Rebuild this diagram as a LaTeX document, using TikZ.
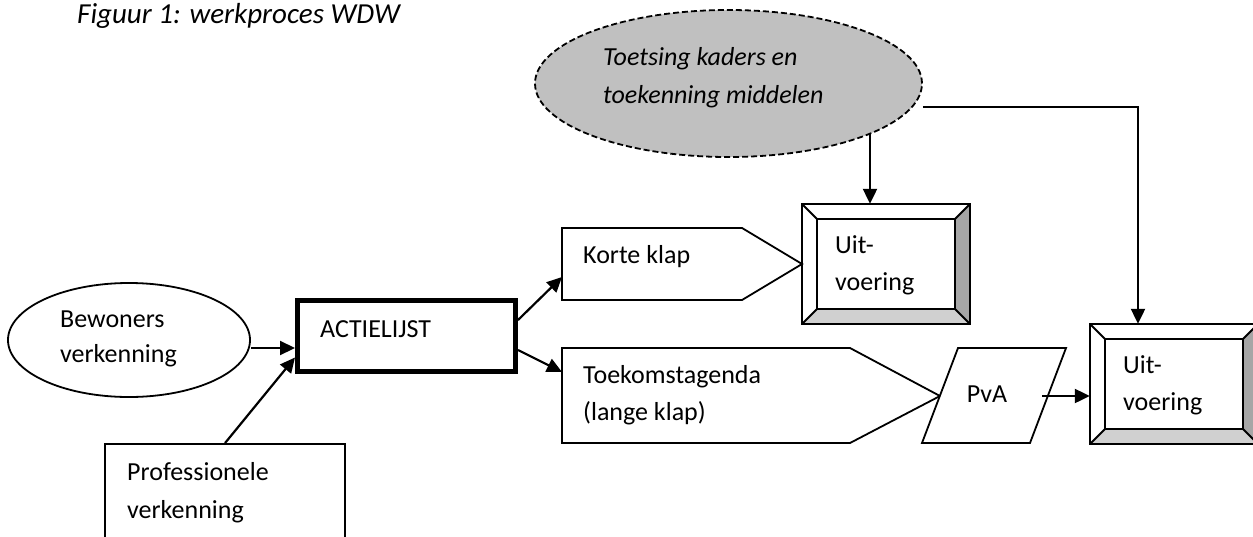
\documentclass[tikz,border=0pt]{standalone}
\usepackage{fontspec}
\setmainfont{Carlito}
\usetikzlibrary{arrows.meta,shapes.geometric,calc}
\definecolor{bevdark}{HTML}{A6A6A6}
\definecolor{bevlight}{HTML}{D0D0D0}
\definecolor{ovalgray}{HTML}{C0C0C0}
\begin{document}
\begin{tikzpicture}[x=1pt,y=-1pt,
  every node/.style={font=\fontsize{26}{31}\selectfont},
  txt/.style={anchor=base west,inner sep=0pt},
  shp/.style={draw,line width=1.8pt,inner sep=0pt},
  arr/.style={line width=2.2pt,-{Triangle[length=15pt,width=14pt]}},
  plain/.style={line width=1.8pt},
]
\useasboundingbox (0,0) rectangle (1253,536);

% title
\node[txt,font=\fontsize{29}{34}\selectfont\itshape] (title) at (77,23) {Figuur 1: werkproces WDW};

% dashed oval
\node[ellipse,shp,dash pattern=on 6pt off 3pt,fill=ovalgray,minimum width=387pt,minimum height=147pt] (toets) at (728.5,83.5) {};
\node[txt,font=\fontsize{26}{31}\selectfont\itshape] (t1) at (603,65) {Toetsing kaders en};
\node[txt,font=\fontsize{26}{31}\selectfont\itshape] (t2) at (603,103) {toekenning middelen};

% Bewoners ellipse
\node[ellipse,shp,minimum width=242pt,minimum height=114pt] (bew) at (129,340) {};
\node[txt] (b1) at (60,327) {Bewoners};
\node[txt] (b2) at (60,362) {verkenning};

% Professionele box
\node[rectangle,shp,minimum width=240pt,minimum height=120pt] (prof) at (225,504) {};
\node[txt] (p1) at (127,480) {Professionele};
\node[txt] (p2) at (127,518) {verkenning};

% ACTIELIJST
\node[rectangle,draw,line width=5pt,minimum width=218pt,minimum height=71pt,inner sep=0pt] (act) at (406.5,335.5) {};
\node[txt] (a1) at (320,337) {ACTIELIJST};

% Korte klap pentagon
\draw[plain,fill=white] (562,228) -- (742,228) -- (802,264) -- (742,300) -- (562,300) -- cycle;
\coordinate (kkin) at (562,277);
\node[txt] (k1) at (583,263) {Korte klap};

% Toekomstagenda pentagon
\draw[plain,fill=white] (562,348) -- (850,348) -- (940,396) -- (850,443) -- (562,443) -- cycle;
\coordinate (tain) at (562,372);
\node[txt] (ta1) at (583,383) {Toekomstagenda};
\node[txt] (ta2) at (583,420) {(lange klap)};

% PvA parallelogram
\draw[plain,fill=white] (922,443) -- (958,348) -- (1066,348) -- (1030,443) -- cycle;
\node[txt,anchor=base] (pva) at (987,402) {PvA};
\coordinate (pvaout) at (1042,396);

% bevel box macro
\newcommand\bevbox[5]{% x1 y1 x2 y2 d
  \fill[bevdark] (#3,#2) -- (#3-#5,#2+#5) -- (#3-#5,#4-#5) -- (#3,#4) -- cycle;
  \fill[bevlight] (#1,#4) -- (#1+#5,#4-#5) -- (#3-#5,#4-#5) -- (#3,#4) -- cycle;
  \draw[plain] (#1,#2) rectangle (#3,#4);
  \draw[plain] (#1+#5,#2+#5) rectangle (#3-#5,#4-#5);
  \draw[plain] (#1,#2) -- (#1+#5,#2+#5);
  \draw[plain] (#3,#2) -- (#3-#5,#2+#5);
  \draw[plain] (#1,#4) -- (#1+#5,#4-#5);
  \draw[plain] (#3,#4) -- (#3-#5,#4-#5);
}
% upper Uitvoering
\bevbox{802}{204}{970}{324}{15}
\node[inner sep=0pt,minimum width=168pt,minimum height=120pt] (uit1) at (886,264) {};
\node[txt] (u1a) at (835,253) {Uit-};
\node[txt] (u1b) at (835,290) {voering};

% lower Uitvoering
\bevbox{1090}{324}{1258}{444}{15}
\node[inner sep=0pt,minimum width=168pt,minimum height=120pt] (uit2) at (1174,384) {};
\node[txt] (u2a) at (1123,373) {Uit-};
\node[txt] (u2b) at (1123,410) {voering};

% connectors
\draw[arr] (bew.east |- 0,348) -- (act.west |- 0,348);
\draw[arr] (prof.north) -- ([yshift=-22pt]act.west);
\draw[arr] ([yshift=15.5pt]act.east) -- (kkin);
\draw[arr] ([yshift=-14.5pt]act.east) -- (tain);
\draw[arr] (pvaout) -- (uit2.west |- pvaout);
\coordinate (tdown) at ($(toets.center)+(141.5,50)$);
\draw[arr] (tdown) -- (uit1.north -| tdown);
\coordinate (corner) at (1138,107);
\draw[arr] (toets.east |- corner) -- (corner) -- (uit2.north -| corner);
\end{tikzpicture}
\end{document}
